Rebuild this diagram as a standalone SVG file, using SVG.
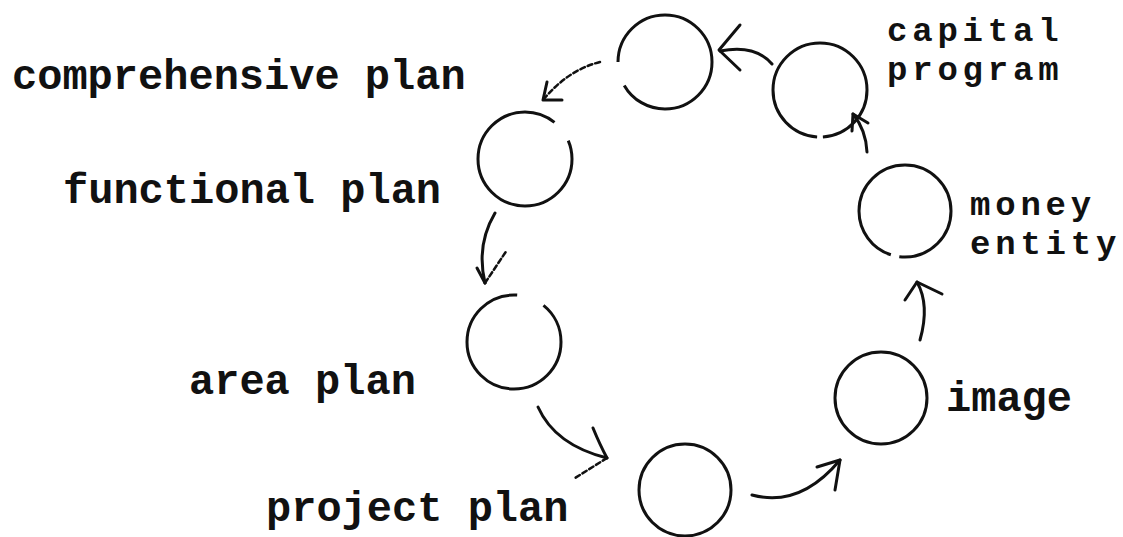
<svg xmlns="http://www.w3.org/2000/svg" width="1123" height="537" viewBox="0 0 1123 537">
<style>
  .node { fill: none; stroke: #111; stroke-width: 3; }
  .lbl { font-family: "Liberation Mono", "Courier New", monospace; font-weight: bold; font-size: 42px; fill: #111; }
  .lbl2 { font-family: "Liberation Mono", "Courier New", monospace; font-weight: bold; font-size: 34px; letter-spacing: 4.8px; fill: #111; }
  .conn { fill: none; stroke: #111; stroke-width: 3; stroke-linecap: round; stroke-linejoin: round; }
  .faint { stroke-dasharray: 5 3; stroke-width: 2.5; }
</style>
<rect width="1123" height="537" fill="#fff"/>

<g id="node-top">
  <circle class="node" cx="665" cy="62" r="47" pathLength="100" stroke-dasharray="91.7 8.3" stroke-dashoffset="50"/>
</g>
<g id="node-capital-program">
  <circle class="node" cx="820" cy="90" r="47" pathLength="100" stroke-dasharray="98 2" stroke-dashoffset="74"/>
  <text class="lbl2" x="887" y="41">capital</text>
  <text class="lbl2" x="887" y="80">program</text>
</g>
<g id="node-money-entity">
  <circle class="node" cx="905" cy="211" r="46" pathLength="100" stroke-dasharray="97 3" stroke-dashoffset="70"/>
  <text class="lbl2" x="970" y="215">money</text>
  <text class="lbl2" x="970" y="254">entity</text>
</g>
<g id="node-image">
  <circle class="node" cx="881" cy="398" r="46"/>
  <text class="lbl" x="946" y="411">image</text>
</g>
<g id="node-project-plan">
  <circle class="node" cx="685" cy="490" r="46"/>
  <text class="lbl" x="266" y="521">project plan</text>
</g>
<g id="node-area-plan">
  <circle class="node" cx="514" cy="342" r="47" pathLength="100" stroke-dasharray="90.3 9.7" stroke-dashoffset="14.2"/>
  <text class="lbl" x="189" y="394">area plan</text>
</g>
<g id="node-functional-plan">
  <circle class="node" cx="525" cy="159" r="47" pathLength="100" stroke-dasharray="92.2 7.8" stroke-dashoffset="6.4"/>
  <text class="lbl" x="63" y="203">functional plan</text>
</g>
<g id="node-comprehensive-plan">
  <text class="lbl" x="12" y="89">comprehensive plan</text>
</g>

<g id="connectors">
  <!-- capital program -> top -->
  <path class="conn" d="M772,64 Q755,44 720,51"/>
  <path class="conn" d="M740,25 L719,50 L740,70"/>
  <!-- top -> functional plan -->
  <path class="conn faint" d="M600,62 Q568,70 544,99"/>
  <path class="conn" d="M547,82 L543,100 L562,100"/>
  <!-- functional -> area -->
  <path class="conn" d="M495,213 Q476,245 485,283"/>
  <path class="conn" d="M477,268 L485,283"/>
  <path class="conn faint" d="M485,283 L507,250"/>
  <!-- area -> project -->
  <path class="conn" d="M538,407 Q555,445 607,458"/>
  <path class="conn" d="M593,428 Q600,445 607,458"/>
  <path class="conn faint" d="M607,458 L575,478"/>
  <!-- project -> image -->
  <path class="conn" d="M752,495 Q800,508 840,460"/>
  <path class="conn" d="M817,467 L840,460 L835,490"/>
  <!-- image -> money -->
  <path class="conn" d="M920,340 Q930,305 917,282"/>
  <path class="conn" d="M905,300 L917,282 L942,294"/>
  <!-- money -> capital -->
  <path class="conn" d="M867,152 Q866,130 853,114"/>
  <path class="conn" d="M852,131 L853,114 L868,123"/>
</g>
</svg>
